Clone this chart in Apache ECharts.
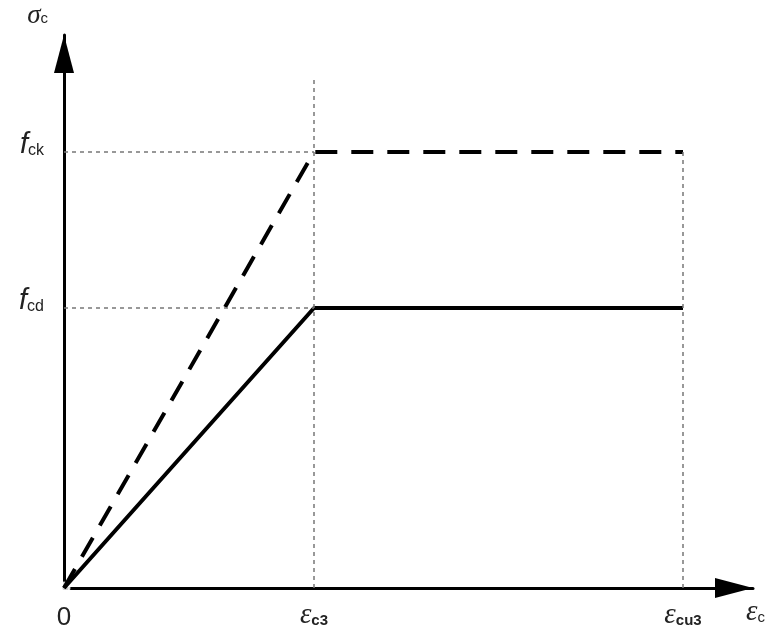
<!DOCTYPE html>
<html>
<head>
<meta charset="utf-8">
<script src="https://cdn.jsdelivr.net/npm/echarts@6/dist/echarts.min.js"></script>
<style>
html,body{margin:0;padding:0;background:#fff;}
#chart{width:768px;height:632px;}
</style>
</head>
<body>
<div id="chart"></div>
<script>
// strain values (relative units, eps_c3 = 1)
const strainTicks = [0, 1, 2.476];
const xTickMain = ['0', 'ε', 'ε'];
const xTickSub = ['', 'c3', 'cu3'];
// stress values (relative units, f_ck = 1)
const stressTicks = [0.642, 1];
const yTickMain = ['f', 'f'];
const yTickSub = ['cd', 'ck'];
const xMax = 2.756;
const yMax = 1.268;
const guideTop = 1.172;

const epsC3 = strainTicks[1];
const epsCu3 = strainTicks[2];
const fcd = stressTicks[0];
const fck = stressTicks[1];

// stress-strain curves
const characteristicCurve = [[0, 0], [epsC3, fck], [epsCu3, fck]];
const designCurve = [[0, 0], [epsC3, fcd], [epsCu3, fcd]];

const chart = echarts.init(document.getElementById('chart'));
const serif = 'Liberation Serif';
const sans = 'Liberation Sans';
const textColor = '#222';

function findIdx(arr, v) {
  let best = 0;
  for (let i = 0; i < arr.length; i++) if (Math.abs(arr[i] - v) < Math.abs(arr[best] - v)) best = i;
  return best;
}

chart.setOption({
  animation: false,
  backgroundColor: '#fff',
  grid: { left: 64, right: 15, top: 35, bottom: 44, outerBoundsMode: 'none' },
  xAxis: {
    type: 'value', min: 0, max: xMax,
    name: '{e|ε}{s|c}',
    nameLocation: 'end', nameGap: -7,
    nameTextStyle: {
      verticalAlign: 'top', align: 'left', padding: [10, 0, 0, 0],
      rich: {
        e: { fontFamily: serif, fontStyle: 'italic', fontSize: 29, color: textColor },
        s: { fontFamily: sans, fontSize: 15, color: textColor, padding: [10, 0, 0, 0] }
      }
    },
    axisLine: { show: true, lineStyle: { color: '#000', width: 3 }, symbol: ['none', 'triangle'], symbolSize: [20, 38], symbolOffset: [0, -19] },
    axisTick: { show: false },
    splitLine: { show: false },
    axisLabel: {
      customValues: strainTicks,
      margin: 13,
      formatter: function (v) {
        const i = findIdx(strainTicks, v);
        if (!xTickSub[i]) return '{n|' + xTickMain[i] + '}';
        return '{e|' + xTickMain[i] + '}{s|' + xTickSub[i] + '}';
      },
      rich: {
        n: { fontFamily: sans, fontSize: 26, color: textColor, padding: [4, 0, 0, 0] },
        e: { fontFamily: serif, fontStyle: 'italic', fontSize: 29, color: textColor },
        s: { fontFamily: sans, fontSize: 15, fontWeight: 'bold', color: textColor, padding: [10, 0, 0, 0] }
      }
    }
  },
  yAxis: {
    type: 'value', min: 0, max: yMax,
    name: '{s|σ}{c|c}',
    nameLocation: 'end', nameGap: 6,
    nameTextStyle: {
      align: 'right', padding: [0, 16, 0, 0],
      rich: {
        s: { fontFamily: serif, fontStyle: 'italic', fontSize: 27, color: textColor },
        c: { fontFamily: sans, fontSize: 15, color: textColor, padding: [6, 0, 0, 0] }
      }
    },
    axisLine: { show: true, lineStyle: { color: '#000', width: 3 }, symbol: ['none', 'triangle'], symbolSize: [20, 38], symbolOffset: [0, -19] },
    axisTick: { show: false },
    splitLine: { show: false },
    axisLabel: {
      customValues: stressTicks,
      margin: 20,
      formatter: function (v) {
        const i = findIdx(stressTicks, v);
        return '{f|' + yTickMain[i] + '}{s|' + yTickSub[i] + '}';
      },
      rich: {
        f: { fontFamily: sans, fontStyle: 'italic', fontSize: 29, color: textColor, padding: [0, 0, 14, 0] },
        s: { fontFamily: sans, fontSize: 16, color: textColor, padding: [0, 0, 2, 0] }
      }
    }
  },
  series: [
    {
      type: 'scatter', data: [[0, 0]], symbol: 'emptyCircle', symbolSize: 11, z: 1,
      itemStyle: { color: '#fff', borderColor: '#999', borderWidth: 2 }, silent: true
    },
    {
      type: 'line', data: [], z: 2, silent: true,
      markLine: {
        silent: true, symbol: 'none', label: { show: false },
        lineStyle: { color: '#777', width: 1.5, type: [4, 4] },
        data: [
          [{ coord: [0, fck] }, { coord: [epsC3, fck] }],
          [{ coord: [0, fcd] }, { coord: [epsC3, fcd] }],
          [{ coord: [epsC3, 0] }, { coord: [epsC3, guideTop] }],
          [{ coord: [epsCu3, 0] }, { coord: [epsCu3, fck] }]
        ]
      }
    },
    {
      type: 'line', data: characteristicCurve, symbol: 'none', z: 3,
      lineStyle: { color: '#000', width: 4, type: [22, 14] }
    },
    {
      type: 'line', data: designCurve, symbol: 'none', z: 4,
      lineStyle: { color: '#000', width: 4 }
    }
  ]
});
</script>
</body>
</html>
